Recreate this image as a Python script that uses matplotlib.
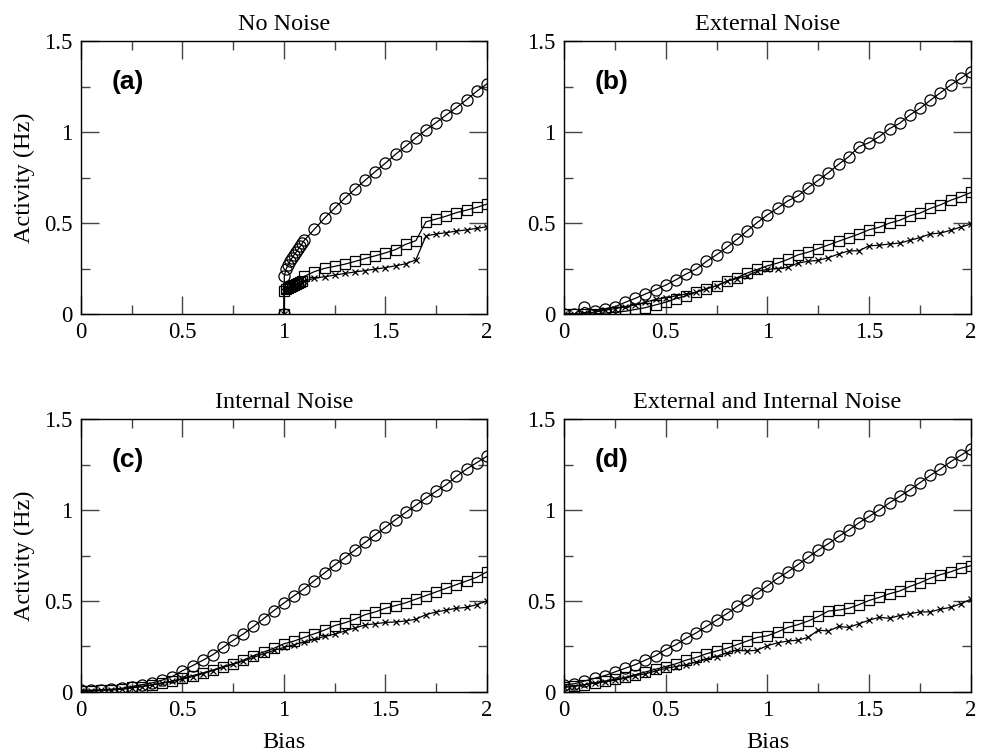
import numpy as np
import matplotlib.pyplot as plt

plt.rcParams['font.family'] = 'Liberation Serif'
plt.rcParams['mathtext.fontset'] = 'stix'

# bias grid used for the noisy runs
bias = np.linspace(0, 2, 41)

# (a) no noise: nothing below threshold, dense sampling just above 1
bias_a = [1.0, 1.002, 1.01, 1.02, 1.03, 1.04, 1.05, 1.06, 1.07, 1.08, 1.09,
          1.1, 1.15, 1.2, 1.25, 1.3, 1.35, 1.4, 1.45, 1.5, 1.55, 1.6, 1.65,
          1.7, 1.75, 1.8, 1.85, 1.9, 1.95, 2.0]
circ_a = [0.0, 0.209, 0.245, 0.268, 0.29, 0.308, 0.325, 0.34, 0.356, 0.372, 0.388,
          0.405, 0.466, 0.527, 0.582, 0.637, 0.686, 0.735, 0.783, 0.829, 0.878,
          0.922, 0.968, 1.012, 1.052, 1.094, 1.134, 1.178, 1.224, 1.265]
sq_a = [0.0, 0.128, 0.136, 0.143, 0.149, 0.155, 0.161, 0.166, 0.172, 0.177, 0.183,
        0.207, 0.233, 0.251, 0.262, 0.274, 0.289, 0.305, 0.32, 0.336, 0.354,
        0.383, 0.403, 0.507, 0.522, 0.538, 0.557, 0.571, 0.586, 0.604]
cross_a = [0.0, 0.124, 0.131, 0.137, 0.142, 0.147, 0.152, 0.157, 0.161, 0.165, 0.17,
           0.182, 0.196, 0.205, 0.214, 0.223, 0.231, 0.239, 0.247, 0.255, 0.265,
           0.276, 0.298, 0.429, 0.44, 0.447, 0.456, 0.462, 0.471, 0.48]

# (b) external noise
circ_b = [0.0, 0.0, 0.037, 0.018, 0.027, 0.04, 0.064, 0.086, 0.11, 0.134, 0.159,
          0.188, 0.22, 0.247, 0.289, 0.326, 0.366, 0.41, 0.457, 0.503, 0.545,
          0.582, 0.622, 0.649, 0.695, 0.735, 0.777, 0.823, 0.865, 0.92, 0.942,
          0.975, 1.019, 1.048, 1.094, 1.13, 1.174, 1.216, 1.258, 1.295, 1.332]
sq_b = [0.0, 0.0, 0.0, 0.0, 0.005, 0.01, 0.015, 0.025, 0.035, 0.05, 0.065,
        0.085, 0.1, 0.12, 0.14, 0.155, 0.18, 0.2, 0.225, 0.245, 0.265,
        0.28, 0.3, 0.325, 0.34, 0.36, 0.38, 0.4, 0.42, 0.44, 0.463,
        0.477, 0.5, 0.515, 0.54, 0.555, 0.58, 0.6, 0.625, 0.645, 0.668]
cross_b = [0.0, 0.0, 0.005, 0.01, 0.02, 0.03, 0.04, 0.05, 0.065, 0.08, 0.09,
           0.1, 0.11, 0.12, 0.14, 0.155, 0.18, 0.195, 0.21, 0.235, 0.245,
           0.25, 0.256, 0.28, 0.29, 0.295, 0.31, 0.33, 0.347, 0.348, 0.375,
           0.378, 0.385, 0.39, 0.405, 0.42, 0.44, 0.445, 0.46, 0.478, 0.494]

# (c) internal noise
circ_c = [0.01, 0.01, 0.012, 0.015, 0.02, 0.03, 0.04, 0.05, 0.065, 0.085, 0.117,
          0.145, 0.174, 0.205, 0.245, 0.284, 0.319, 0.36, 0.403, 0.447, 0.489,
          0.529, 0.568, 0.612, 0.654, 0.698, 0.738, 0.78, 0.822, 0.864, 0.905,
          0.947, 0.987, 1.026, 1.066, 1.103, 1.139, 1.185, 1.225, 1.26, 1.295]
sq_c = [0.005, 0.005, 0.01, 0.012, 0.015, 0.025, 0.03, 0.04, 0.05, 0.06, 0.075,
        0.09, 0.105, 0.12, 0.14, 0.155, 0.175, 0.2, 0.22, 0.24, 0.265,
        0.28, 0.3, 0.32, 0.34, 0.365, 0.38, 0.4, 0.425, 0.44, 0.46,
        0.475, 0.49, 0.51, 0.53, 0.55, 0.57, 0.59, 0.61, 0.63, 0.66]
cross_c = [0.005, 0.005, 0.01, 0.012, 0.015, 0.022, 0.03, 0.038, 0.048, 0.058, 0.07,
           0.085, 0.1, 0.118, 0.135, 0.152, 0.17, 0.19, 0.21, 0.228, 0.245,
           0.26, 0.275, 0.29, 0.305, 0.318, 0.335, 0.352, 0.368, 0.375, 0.382,
           0.385, 0.39, 0.4, 0.425, 0.44, 0.45, 0.46, 0.465, 0.48, 0.5]

# (d) external and internal noise
circ_d = [0.04, 0.045, 0.06, 0.075, 0.09, 0.11, 0.13, 0.15, 0.175, 0.2, 0.233,
          0.26, 0.295, 0.325, 0.36, 0.395, 0.43, 0.47, 0.505, 0.545, 0.584,
          0.625, 0.66, 0.7, 0.74, 0.78, 0.815, 0.855, 0.89, 0.93, 0.965,
          1.0, 1.04, 1.075, 1.11, 1.15, 1.19, 1.225, 1.265, 1.3, 1.335]
sq_d = [0.03, 0.035, 0.04, 0.05, 0.06, 0.07, 0.08, 0.095, 0.11, 0.125, 0.14,
        0.155, 0.175, 0.19, 0.21, 0.225, 0.24, 0.26, 0.28, 0.3, 0.309,
        0.33, 0.355, 0.37, 0.39, 0.415, 0.445, 0.45, 0.46, 0.48, 0.503,
        0.52, 0.54, 0.555, 0.58, 0.6, 0.625, 0.645, 0.66, 0.68, 0.694]
cross_d = [0.025, 0.03, 0.04, 0.05, 0.055, 0.065, 0.075, 0.09, 0.1, 0.115, 0.13,
           0.14, 0.15, 0.165, 0.18, 0.195, 0.215, 0.23, 0.225, 0.23, 0.255,
           0.27, 0.28, 0.285, 0.3, 0.34, 0.335, 0.36, 0.355, 0.375, 0.395,
           0.41, 0.405, 0.42, 0.43, 0.44, 0.44, 0.455, 0.465, 0.485, 0.51]

titles = ['No Noise', 'External Noise', 'Internal Noise', 'External and Internal Noise']
tags = ['(a)', '(b)', '(c)', '(d)']
panels = [(bias_a, circ_a, sq_a, cross_a),
          (bias, circ_b, sq_b, cross_b),
          (bias, circ_c, sq_c, cross_c),
          (bias, circ_d, sq_d, cross_d)]

fig = plt.figure(figsize=(9.9, 7.52), dpi=100)
rects = [[0.0818, 0.5824, 0.410, 0.363],
         [0.5697, 0.5824, 0.411, 0.363],
         [0.0818, 0.0798, 0.410, 0.363],
         [0.5697, 0.0798, 0.411, 0.363]]

for i, (x, yc, ys, yx) in enumerate(panels):
    ax = fig.add_axes(rects[i])
    ax.plot(x, yc, color='k', lw=0.9, marker='o', ms=8, mfc='none', mec='k', mew=0.9)
    ax.plot(x, ys, color='k', lw=0.9, marker='s', ms=6.5, mfc='none', mec='k', mew=0.9)
    ax.plot(x, yx, color='k', lw=0.9, marker='x', ms=5, mec='k', mew=0.9)

    ax.set_xlim(0, 2)
    ax.set_ylim(0, 1.5)
    ax.set_xticks([0, 0.5, 1, 1.5, 2])
    ax.set_xticklabels(['0', '0.5', '1', '1.5', '2'])
    ax.set_yticks([0, 0.5, 1, 1.5])
    ax.set_yticklabels(['0', '0.5', '1', '1.5'])
    ax.set_xticks([0.25, 0.75, 1.25, 1.75], minor=True)
    ax.set_yticks([0.25, 0.75, 1.25], minor=True)
    ax.tick_params(which='both', direction='in', top=True, right=True,
                   color='#444444', width=1.0, labelsize=16.5, pad=6)
    ax.tick_params(which='major', length=13)
    ax.tick_params(which='minor', length=6.5)
    for sp in ax.spines.values():
        sp.set_linewidth(1.0)

    ax.set_title(titles[i], fontsize=17.5, pad=8)
    ax.text(0.075, 0.85, tags[i], transform=ax.transAxes, ha='left', va='center',
            fontsize=19, fontweight='bold', family='Liberation Sans')

    if i % 2 == 0:
        ax.set_ylabel('Activity (Hz)', fontsize=17.5)
        ax.yaxis.set_label_coords(-0.113, 0.5)
    if i >= 2:
        ax.set_xlabel('Bias', fontsize=17.5)
        ax.xaxis.set_label_coords(0.5, -0.145)

fig.savefig('out.png', dpi=100)
